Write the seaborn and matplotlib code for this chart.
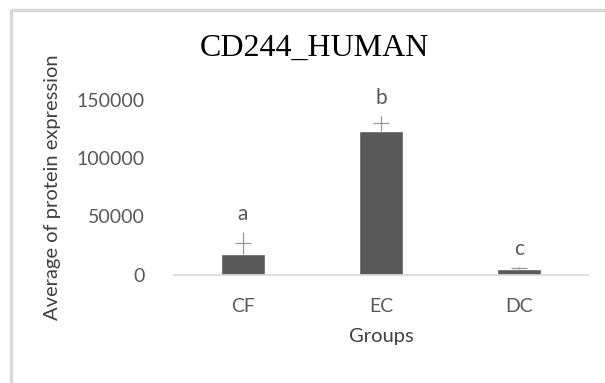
import numpy as np
import seaborn as sns
import matplotlib.pyplot as plt
from matplotlib.lines import Line2D

sns.set_style('white')
plt.rcParams['font.family'] = ['Lato', 'DejaVu Sans']

# data
groups = ['CF', 'EC', 'DC']
means = [17300, 123300, 4300]
sems = [9500, 6500, 900]
letters = ['a', 'b', 'c']

fig = plt.figure(figsize=(6.05, 3.83), dpi=100)
ax = fig.add_axes([174 / 605, 1 - 274.5 / 383, 414 / 605, 174.5 / 383])

sns.barplot(x=groups, y=means, color='#595959', width=0.32, saturation=1,
            errorbar=None, ax=ax)

# error bars look like "+" marks centred at mean + sem
tops = np.add(means, sems)
ax.errorbar(x=range(len(groups)), y=tops, yerr=sems, fmt='_', ms=12,
            mew=0.9, color='#999999', ecolor='#999999', elinewidth=0.9)

for i, (t, s, lab) in enumerate(zip(tops, sems, letters)):
    ax.annotate(lab, (i, t + s), xytext=(0, 13), textcoords='offset points',
                ha='center', va='center', fontsize=15, color='#595959')

ax.set_ylim(0, 150000)
ax.set_xlim(-0.5, 2.5)
ax.set_yticks([0, 50000, 100000, 150000])
ax.set_yticklabels(['0', '50000', '100000', '150000'])
ax.tick_params(axis='y', length=0, pad=21, labelsize=14, labelcolor='#595959')
ax.tick_params(axis='x', length=0, pad=17, labelsize=14, labelcolor='#595959')

for side in ['top', 'right', 'left']:
    ax.spines[side].set_visible(False)
ax.spines['bottom'].set_color('#d9d9d9')
ax.spines['bottom'].set_linewidth(1.2)

ax.set_xlabel('Groups', fontsize=14.5, color='#404040', labelpad=9)
ax.set_ylabel('Average of protein expression', fontsize=14.5, color='#404040')
ax.yaxis.set_label_coords(-113 / 414, 0.5)

fig.text(314 / 605, 1 - 48 / 383, 'CD244_HUMAN', family='Liberation Serif',
         fontsize=23, ha='center', va='center', color='black')

# outer chart border (only top and left edges are visible)
y_top = 1 - 10 / 383
x_left = 11 / 605
fig.add_artist(Line2D([x_left, x_left], [0, y_top], color='#d9d9d9', lw=2.5))
fig.add_artist(Line2D([x_left, 1], [y_top, y_top], color='#d9d9d9', lw=2.5))

fig.savefig('out.png', dpi=100, facecolor='white')
